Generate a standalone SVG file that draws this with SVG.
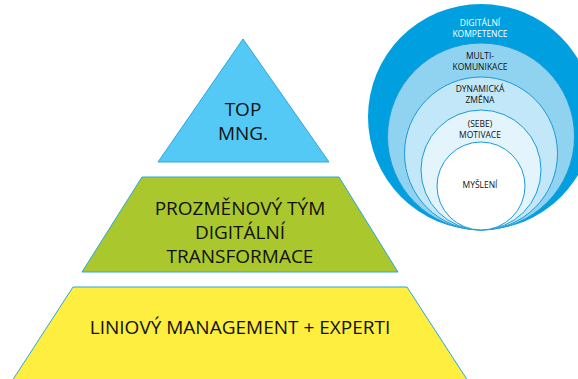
<svg xmlns="http://www.w3.org/2000/svg" width="578" height="379" viewBox="0 0 578 379">
<style>
.lvl{stroke:#2ba6de;stroke-width:1}
.t{font-family:"Open Sans","Noto Sans",sans-serif;fill:#111;text-anchor:middle}
.big{font-size:19px}
.sm{font-size:8.5px}
.ring{stroke:#1a9ad8;stroke-width:1}
</style>
<rect width="578" height="379" fill="#fff"/>
<g id="top-mng">
<polygon class="lvl" points="243,39 158,162 329,162" fill="#55c9f6"/>
<text class="t big" x="243" y="116">TOP</text>
<text class="t big" x="243" y="140">MNG.</text>
</g>
<g id="prozmenovy-tym">
<polygon class="lvl" points="142,177 339,177 398,272 82,272" fill="#aac82d"/>
<text class="t big" x="240" y="215">PROZMĚNOVÝ TÝM</text>
<text class="t big" x="240" y="239">DIGITÁLNÍ</text>
<text class="t big" x="240" y="263">TRANSFORMACE</text>
</g>
<g id="liniovy-management">
<polygon class="lvl" points="73,287 407,287 468,381 12,381" fill="#fdee3f"/>
<text class="t big" x="240" y="334">LINIOVÝ MANAGEMENT + EXPERTI</text>
</g>
<g id="digitalni-kompetence">
<circle cx="481" cy="117" r="113" fill="#009fe0"/>
<text class="t sm" x="480" y="25.5" style="fill:#fff">DIGITÁLNÍ</text>
<text class="t sm" x="480" y="37" style="fill:#fff">KOMPETENCE</text>
</g>
<g id="multikomunikace">
<circle class="ring" cx="481" cy="136.5" r="93.5" fill="#8fd3f1"/>
<text class="t sm" x="480" y="58.5">MULTI-</text>
<text class="t sm" x="480" y="70">KOMUNIKACE</text>
</g>
<g id="dynamicka-zmena">
<circle class="ring" cx="481" cy="153.5" r="76.5" fill="#c2e7f8"/>
<text class="t sm" x="480" y="91.5">DYNAMICKÁ</text>
<text class="t sm" x="480" y="103">ZMĚNA</text>
</g>
<g id="sebe-motivace">
<circle class="ring" cx="481" cy="170" r="60" fill="#e3f4fc"/>
<text class="t sm" x="480" y="126.5">(SEBE)</text>
<text class="t sm" x="480" y="138">MOTIVACE</text>
</g>
<g id="mysleni">
<circle class="ring" cx="481" cy="186" r="44" fill="#fff"/>
<text class="t sm" x="480" y="188">MYŠLENÍ</text>
</g>
<g id="connectors"/>
</svg>
